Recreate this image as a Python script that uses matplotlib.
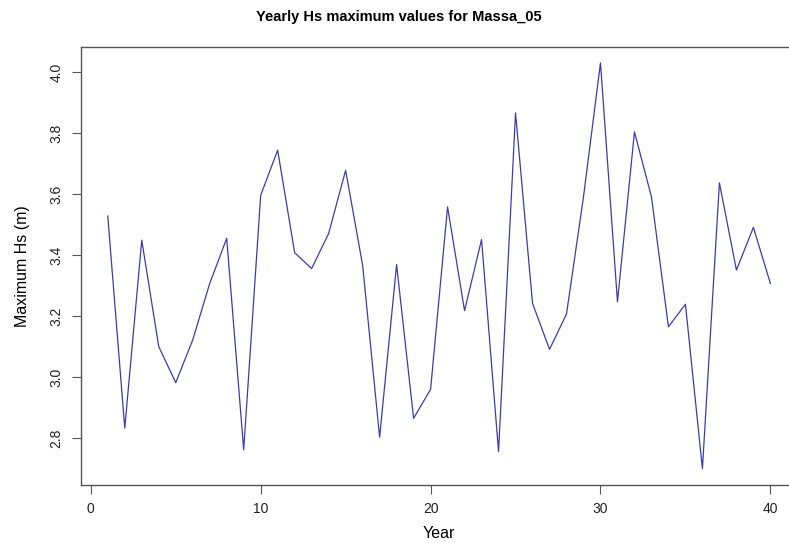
import numpy as np
import matplotlib
matplotlib.use("Agg")
import matplotlib.pyplot as plt

plt.rcParams['font.family'] = ['Liberation Sans', 'DejaVu Sans']

years = np.arange(1, 41)
hs_max = [3.528, 2.833, 3.449, 3.100, 2.982, 3.122, 3.307, 3.455, 2.762, 3.596,
          3.744, 3.408, 3.356, 3.471, 3.678, 3.367, 2.803, 3.369, 2.865, 2.960,
          3.558, 3.218, 3.451, 2.756, 3.866, 3.242, 3.091, 3.207, 3.591, 4.030,
          3.247, 3.804, 3.591, 3.165, 3.239, 2.700, 3.637, 3.351, 3.491, 3.307]

fig = plt.figure(figsize=(7.89, 5.43), dpi=100)
ax = fig.add_axes([0.103, 0.107, 0.907, 0.807])

ax.plot(years, hs_max, color='#3c3cae', linewidth=0.9)

# R-style 4% padding around the data range
span_x = years.max() - years.min()
span_y = max(hs_max) - min(hs_max)
ax.set_xlim(years.min() - 0.04 * span_x, years.max() + 0.04 * span_x)
ax.set_ylim(min(hs_max) - 0.04 * span_y, max(hs_max) + 0.04 * span_y)

ax.set_xticks([0, 10, 20, 30, 40])
ax.set_yticks([2.8, 3.0, 3.2, 3.4, 3.6, 3.8, 4.0])
ax.set_yticklabels(['2.8', '3.0', '3.2', '3.4', '3.6', '3.8', '4.0'],
                   rotation=90, va='center')

for s in ax.spines.values():
    s.set_color('#555555')
    s.set_linewidth(1.0)
ax.tick_params(direction='out', length=6.2, width=0.8, color='#555555',
               labelsize=10, labelcolor='#222222')
ax.tick_params(axis='x', pad=6)
ax.tick_params(axis='y', pad=6.5)

ax.set_xlabel('Year', fontsize=11.5, labelpad=7.5)
ax.set_ylabel('Maximum Hs (m)', fontsize=11.5, labelpad=14)
fig.suptitle('Yearly Hs maximum values for Massa_05', fontsize=10.5,
             fontweight='bold', x=0.505, y=0.982)

fig.savefig('out.png', dpi=100)
